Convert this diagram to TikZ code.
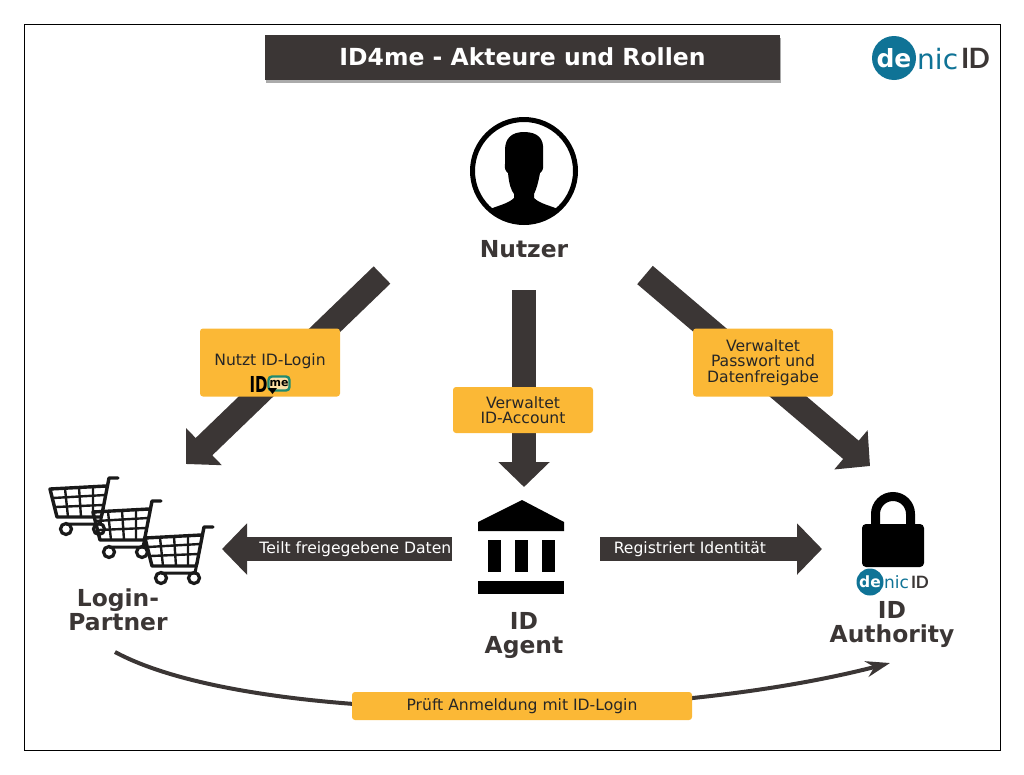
\documentclass[tikz,border=0pt]{standalone}
\usepackage{fontspec}
\setmainfont{DejaVu Sans}
\newfontfamily\logofont{Lato}
\usetikzlibrary{arrows.meta,backgrounds,shadows}
\definecolor{darkgrey}{HTML}{3B3635}
\definecolor{boxorange}{HTML}{FBB836}
\definecolor{denicblue}{HTML}{0F7396}
\definecolor{meteal}{HTML}{1F8A70}
\tikzset{
    bigarrow/.style={draw=darkgrey, line width=24pt, -{Triangle[length=25pt,width=50pt]}, color=darkgrey},
    orangebox/.style={rectangle, rounded corners=3pt, fill=boxorange, text=black!85, align=center, font=\fontsize{15.6}{15.6}\selectfont, minimum width=140pt},
    rolelabel/.style={text=darkgrey, align=center, font=\fontsize{23.4}{24}\bfseries\selectfont},
    barlabel/.style={text=white, font=\fontsize{15.6}{16}\selectfont},
    cart/.pic={
        \draw [black!90, line width=3.4pt, line join=round, line cap=round] (68,0) -- (59,0) -- (52,36) -- (51,39) -- (7,39) -- (0,11) -- (56,8);
        \draw [black!90, line width=2.4pt] (3,20) -- (55,17) (5.5,29) -- (53,27);
        \draw [black!90, line width=2.4pt] (15,10.5) -- (18,39) (29,9.5) -- (31,39) (43,8.5) -- (43,39);
        \draw [black!90, line width=3.2pt] (16,51) circle (5.5) (49,51) circle (5.5);
        \draw [black!90, line width=3pt] (52,36) -- (50,46) -- (16,46);
    }
}
\begin{document}
\begin{tikzpicture}[x=1pt, y=-1pt]
    \useasboundingbox (0,0) rectangle (1024,774);
    % Frame and title
    \node [draw=black, line width=1pt, minimum width=976pt, minimum height=726pt, inner sep=0pt] (frame) at (512,387) {};
    \node [fill=darkgrey, text=white, minimum width=515pt, minimum height=45pt, inner sep=0pt, drop shadow={shadow xshift=1pt, shadow yshift=-2.5pt, fill=black!60, opacity=0.55}, font=\fontsize{23.5}{24}\bfseries\selectfont] (title) at (522.5,57.5) {\raisebox{2pt}{ID4me - Akteure und Rollen}};
    % Place nodes
    \node [rolelabel] (nutzer) at (524,249) {Nutzer};
    \node [rolelabel] (partner) at (118,610) {Login-\\Partner};
    \node [rolelabel] (agent) at (524,635) {ID\\Agent};
    \node [rolelabel] (authority) at (892,624) {ID\\Authority};
    \node [orangebox, minimum height=68pt] (nutzt) at (270,362.5) {};
    \node [text=black!85, font=\fontsize{15.6}{16}\selectfont] (nutztlabel) at (270,361) {Nutzt ID-Login};
    \node [orangebox, minimum height=46pt] (account) at (523,410) {Verwaltet\\ID-Account};
    \node [orangebox, minimum height=68pt] (passwort) at (763,362.5) {Verwaltet\\Passwort und\\Datenfreigabe};
    \node [orangebox, minimum width=340pt, minimum height=28pt] (pruefen) at (522,706) {Prüft Anmeldung mit ID-Login};
    % Free ends of the arrows
    \coordinate (a1) at (382,275);
    \coordinate (b1) at (186,464);
    \coordinate (a2) at (524,290);
    \coordinate (b2) at (524,487);
    \coordinate (a3) at (645,275);
    \coordinate (b3) at (870,466);
    \coordinate (a4) at (452,549);
    \coordinate (b4) at (222,549);
    \coordinate (a5) at (600,549);
    \coordinate (b5) at (822,549);
    \coordinate (a6) at (115,652);
    \coordinate (b6) at (890,663);
    \begin{scope}[on background layer]
        \path [bigarrow] (a1) -- (b1);
        \path [bigarrow] (a2) -- (b2);
        \path [bigarrow] (a3) -- (b3);
        \path [draw=darkgrey, line width=4pt, -{Stealth[length=24pt,width=16pt]}] (a6) .. controls (250,725) and (650,725) .. (b6);
    \end{scope}
    \path [bigarrow] (a4) -- node [barlabel, pos=0.42] (teilt) {Teilt freigegebene Daten} (b4);
    \path [bigarrow] (a5) -- node [barlabel, pos=0.405] (registriert) {Registriert Identität} (b5);
    % ID4me logo
    \node [text=black, inner sep=0pt, xscale=0.68, font=\fontsize{22}{22}\bfseries\selectfont] (idmark) at (258.5,384) {ID};
    \node [draw=meteal, line width=2.4pt, fill=boxorange!45, rounded corners=3.5pt, minimum width=21pt, minimum height=14pt, inner sep=0pt, font=\fontsize{11}{11}\bfseries\selectfont] (memark) at (279,383.5) {me};
    \fill [black] (268,388) -- (277,388) -- (272.5,394) -- cycle;
    % Person
    \node [circle, draw=black, line width=5pt, minimum size=103pt, inner sep=0pt] (person) at (524,171) {};
    \begin{scope}
        \clip (person.center) circle (50);
        \fill [black] (505,150) .. controls (505,138) and (512,132) .. (524,132) .. controls (538,132) and (544,139) .. (543,150)
            -- (543,164) .. controls (544,168) and (542,172) .. (540,173) .. controls (538,184) and (536,190) .. (534,194)
            -- (534,198) .. controls (540,204) and (552,206) .. (560,210) -- (575,230) -- (473,230) -- (488,210)
            .. controls (496,206) and (508,204) .. (514,198) -- (514,194) .. controls (511,190) and (509,184) .. (508,173)
            .. controls (506,172) and (504,168) .. (505,164) -- cycle;
    \end{scope}
    % Carts
    \pic at (50,478) {cart};
    \pic at (93,501) {cart};
    \pic at (145,527) {cart};
    % Bank
    \fill [black] (478,522) -- (522,500) -- (564,522) -- (564,531) -- (478,531) -- cycle;
    \foreach \xpos in {488,515,542}
        \fill [black] (\xpos,540) rectangle ++(13,32);
    \fill [black] (478,581) rectangle (564,594);
    % Lock
    \draw [black, line width=9pt] (875.5,526) -- (875.5,514) arc [start angle=180, end angle=360, radius=17.5] -- (910.5,526);
    \fill [black, rounded corners=4pt] (862,524) rectangle (924,567);
    % denicID logos
    \node [circle, fill=denicblue, minimum size=44pt, inner sep=0pt, text=white, font=\fontsize{25}{25}\bfseries\selectfont] (denicA) at (894,58) {de};
    \node [anchor=west, inner sep=0pt, text=denicblue, font=\fontsize{28}{28}\selectfont] (nicA) at (917,59) {nic};
    \node [anchor=west, inner sep=0pt, text=darkgrey, font=\logofont\fontsize{28}{28}\bfseries\selectfont] (idA) at (961,58) {I\kern-1pt D};
    \node [circle, fill=denicblue, minimum size=27pt, inner sep=0pt, text=white, font=\fontsize{15.5}{15.5}\bfseries\selectfont] (denicB) at (870,582) {de};
    \node [anchor=west, inner sep=0pt, text=denicblue, font=\fontsize{17}{17}\selectfont] (nicB) at (884,582.5) {nic};
    \node [anchor=west, inner sep=0pt, text=darkgrey, font=\logofont\fontsize{17}{17}\bfseries\selectfont] (idB) at (911,582) {I\kern-0.5pt D};
\end{tikzpicture}
\end{document}
